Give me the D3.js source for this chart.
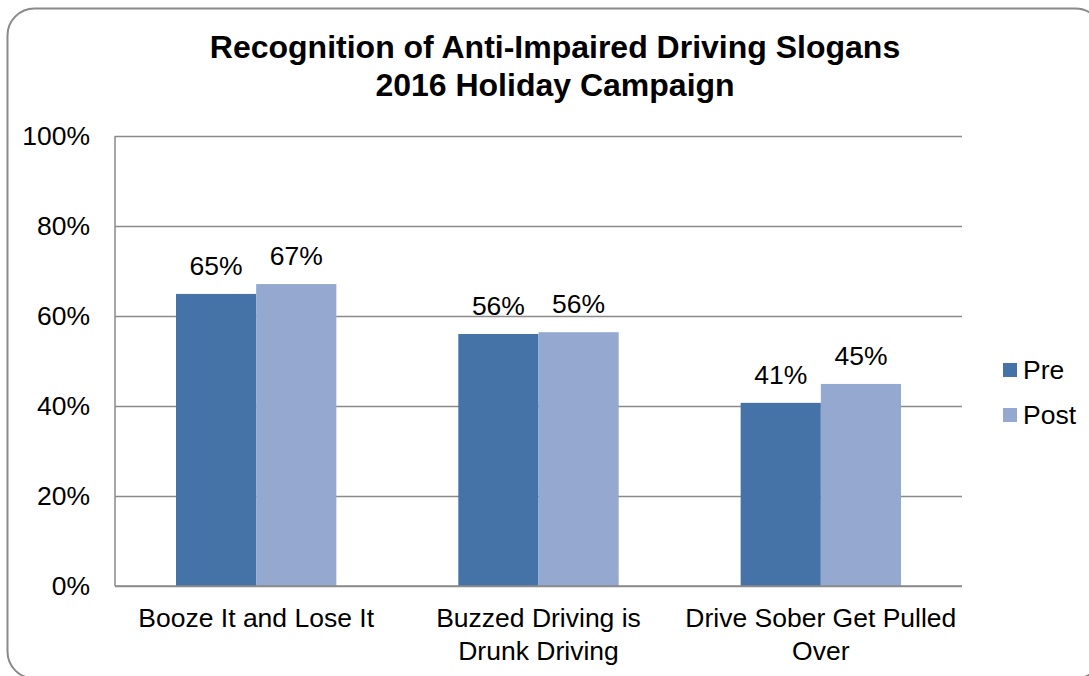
<!DOCTYPE html>
<html>
<head>
<meta charset="utf-8">
<script src="https://cdn.jsdelivr.net/npm/d3@7"></script>
<style>
  body { margin: 0; background: #fff; }
  svg { font-family: "Liberation Sans", Arial, sans-serif; }
</style>
</head>
<body>
<svg></svg>
<script>
let categories = ["Booze It and Lose It", "Buzzed Driving is Drunk Driving", "Drive Sober Get Pulled Over"]
let seriesNames = ["Pre", "Post"]
let preValues = [64.9, 56.0, 40.7]
let postValues = [67.1, 56.4, 44.9]
let yTicks = [0, 20, 40, 60, 80, 100]
let titleLines = ["Recognition of Anti-Impaired Driving Slogans", "2016 Holiday Campaign"]

let colors = ["#4572a7", "#94a8d0"]

let width = 1089
let height = 676
let plot = { left: 115, right: 962, top: 136, bottom: 586 }
let fontSize = 26.5

let svg = d3.select('svg')
    .attr('width', width)
    .attr('height', height)

// outer chart border, runs off the right and bottom edges
svg.append('rect')
    .attr('x', 7.5)
    .attr('y', 8.5)
    .attr('width', 1095)
    .attr('height', 670)
    .attr('rx', 27)
    .attr('fill', 'none')
    .attr('stroke', '#8a8a8a')
    .attr('stroke-width', 2)

svg.selectAll('.title')
    .data(titleLines)
    .enter()
    .append('text')
    .attr('class', 'title')
    .attr('x', 555)
    .attr('y', (d, i) => 58 + i * 38)
    .attr('text-anchor', 'middle')
    .attr('font-weight', 'bold')
    .attr('font-size', 32)
    .text(d => d)

let xScale = d3.scaleBand()
    .domain(categories)
    .range([plot.left, plot.right])
    .paddingInner(0.432)
    .paddingOuter(0.216)

let groupScale = d3.scaleBand()
    .domain(seriesNames)
    .range([0, xScale.bandwidth()])

let yScale = d3.scaleLinear()
    .domain([0, 100])
    .range([plot.bottom, plot.top])

// gridlines
let yAxis = d3.axisLeft(yScale)
    .tickValues(yTicks)
    .tickSize(-(plot.right - plot.left))
    .tickFormat(d => d + '%')
    .tickPadding(25)

let yG = svg.append('g')
    .attr('transform', 'translate(' + plot.left + ',0)')
    .call(yAxis)
yG.select('.domain').remove()
yG.selectAll('line').attr('stroke', '#8a8a8a').attr('stroke-width', 1.5)
yG.selectAll('text')
    .attr('font-size', fontSize)
    .attr('font-family', '"Liberation Sans", Arial, sans-serif')
    .attr('fill', '#000')

// left axis line
svg.append('line')
    .attr('x1', plot.left).attr('x2', plot.left)
    .attr('y1', plot.top).attr('y2', plot.bottom)
    .attr('stroke', '#8a8a8a')
    .attr('stroke-width', 1.5)

let rows = categories.map((c, i) => ({ cat: c, vals: [preValues[i], postValues[i]] }))

let groups = svg.selectAll('.grp')
    .data(rows)
    .enter()
    .append('g')
    .attr('class', 'grp')
    .attr('transform', d => 'translate(' + xScale(d.cat) + ',0)')

groups.selectAll('rect')
    .data(d => d.vals.map((v, j) => ({ name: seriesNames[j], v: v, j: j })))
    .enter()
    .append('rect')
    .attr('x', d => groupScale(d.name))
    .attr('width', groupScale.bandwidth())
    .attr('y', d => yScale(d.v))
    .attr('height', d => yScale(0) - yScale(d.v))
    .attr('fill', d => colors[d.j])

groups.selectAll('.lbl')
    .data(d => d.vals.map((v, j) => ({ name: seriesNames[j], v: v })))
    .enter()
    .append('text')
    .attr('class', 'lbl')
    .attr('x', d => groupScale(d.name) + groupScale.bandwidth() / 2)
    .attr('y', d => yScale(d.v) - 19)
    .attr('text-anchor', 'middle')
    .attr('font-size', fontSize)
    .text(d => Math.round(d.v) + '%')

// bottom baseline
svg.append('line')
    .attr('x1', plot.left).attr('x2', plot.right)
    .attr('y1', plot.bottom).attr('y2', plot.bottom)
    .attr('stroke', '#8a8a8a')
    .attr('stroke-width', 1.5)

// category labels, wrapped like excel does
let wrapWidth = 276
categories.forEach(c => {
    let cx = xScale(c) + xScale.bandwidth() / 2
    let t = svg.append('text')
        .attr('x', cx)
        .attr('y', 627)
        .attr('text-anchor', 'middle')
        .attr('font-size', fontSize)
    let words = c.split(' ')
    let line = []
    let tspan = t.append('tspan').attr('x', cx).attr('dy', 0)
    words.forEach(w => {
        line.push(w)
        tspan.text(line.join(' '))
        if (tspan.node().getComputedTextLength() > wrapWidth && line.length > 1) {
            line.pop()
            tspan.text(line.join(' '))
            line = [w]
            tspan = t.append('tspan')
                .attr('x', cx)
                .attr('dy', 33)
                .text(w)
        }
    })
})

// legend
let legend = svg.selectAll('.leg')
    .data(seriesNames)
    .enter()
    .append('g')
    .attr('class', 'leg')
    .attr('transform', (d, i) => 'translate(1003,' + (363 + i * 45) + ')')

legend.append('rect')
    .attr('width', 14)
    .attr('height', 14)
    .attr('fill', (d, i) => colors[i])

legend.append('text')
    .attr('x', 20)
    .attr('y', 16)
    .attr('font-size', fontSize)
    .text(d => d)
</script>
</body>
</html>
